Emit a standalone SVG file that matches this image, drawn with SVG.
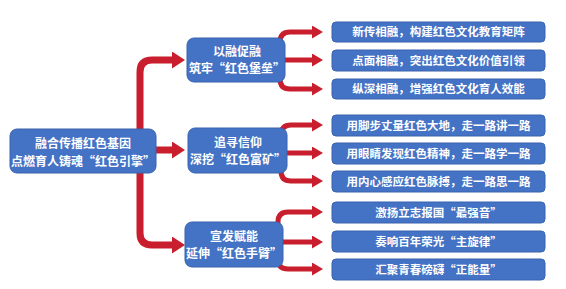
<svg xmlns="http://www.w3.org/2000/svg" width="566" height="289" viewBox="0 0 566 289">
<style>
.box{fill:#4472C4;stroke:#3A63AE;stroke-width:1}
.t{fill:#fff;font-family:"Noto Sans CJK SC","Noto Sans",sans-serif;font-weight:bold;text-anchor:middle}
.m{font-size:12px}
.s{font-size:11.5px}
.big{fill:none;stroke:#C81E2D;stroke-width:7;marker-end:url(#ah)}
.sm{fill:none;stroke:#C81E2D;stroke-width:5;marker-end:url(#as)}
</style>
<defs>
<marker id="ah" markerUnits="userSpaceOnUse" viewBox="0 0 13 17" refX="1" refY="8.5" markerWidth="13" markerHeight="17" orient="auto"><path d="M0,0 L13,8.5 L0,17 z" fill="#C81E2D"/></marker>
<marker id="as" markerUnits="userSpaceOnUse" viewBox="0 0 11 13" refX="1" refY="6.5" markerWidth="11" markerHeight="13" orient="auto"><path d="M0,0 L11,6.5 L0,13 z" fill="#C81E2D"/></marker>
</defs>
<rect width="566" height="289" fill="#fff"/>
<g id="connectors">
<path class="big" d="M140,150 L140,72 Q140,60 152,60 L173,60"/>
<path class="big" d="M150,150 L173,150"/>
<path class="big" d="M140,150 L140,233 Q140,245 152,245 L173,245"/>
<path class="sm" d="M280,60 L280,42 Q280,32 290,32 L313,32"/>
<path class="sm" d="M280,60 L313,60"/>
<path class="sm" d="M280,60 L280,79 Q280,89 290,89 L313,89"/>
<path class="sm" d="M281,150 L281,135 Q281,125 291,125 L313,125"/>
<path class="sm" d="M281,153 L313,153"/>
<path class="sm" d="M281,150 L281,171 Q281,181 291,181 L313,181"/>
<path class="sm" d="M278,244 L278,222 Q278,212 288,212 L313,212"/>
<path class="sm" d="M278,242 L313,242"/>
<path class="sm" d="M278,244 L278,259 Q278,269 288,269 L313,269"/>
</g>
<g id="root"><rect class="box" x="10" y="129" width="146" height="44" rx="7"/><text class="t m" x="83" y="147.5">融合传播红色基因</text><text class="t m" x="83" y="166">点燃育人铸魂“红色引擎”</text></g>
<g id="mid1"><rect class="box" x="187" y="38" width="98" height="44" rx="7"/><text class="t m" x="237" y="56">以融促融</text><text class="t m" x="237" y="73">筑牢“红色堡垒”</text></g>
<g id="mid2"><rect class="box" x="188" y="128" width="99" height="45" rx="7"/><text class="t m" x="238" y="147">追寻信仰</text><text class="t m" x="238" y="164">深挖“红色富矿”</text></g>
<g id="mid3"><rect class="box" x="185" y="222" width="98" height="45" rx="7"/><text class="t m" x="234" y="241">宣发赋能</text><text class="t m" x="234" y="258">延伸“红色手臂”</text></g>
<g id="r1"><rect class="box" x="332" y="22" width="213" height="20" rx="4"/><text class="t s" x="438.5" y="36">新传相融，构建红色文化教育矩阵</text></g>
<g id="r2"><rect class="box" x="332" y="50" width="213" height="21" rx="4"/><text class="t s" x="438.5" y="64.5">点面相融，突出红色文化价值引领</text></g>
<g id="r3"><rect class="box" x="332" y="79" width="213" height="20" rx="4"/><text class="t s" x="438.5" y="93">纵深相融，增强红色文化育人效能</text></g>
<g id="r4"><rect class="box" x="332" y="115" width="213" height="21" rx="4"/><text class="t s" x="438.5" y="129.5">用脚步丈量红色大地，走一路讲一路</text></g>
<g id="r5"><rect class="box" x="332" y="143" width="213" height="21" rx="4"/><text class="t s" x="438.5" y="157.5">用眼睛发现红色精神，走一路学一路</text></g>
<g id="r6"><rect class="box" x="332" y="171" width="213" height="21" rx="4"/><text class="t s" x="438.5" y="185.5">用内心感应红色脉搏，走一路思一路</text></g>
<g id="r7"><rect class="box" x="332" y="202" width="213" height="21" rx="4"/><text class="t s" x="438.5" y="216.5">激扬立志报国“最强音”</text></g>
<g id="r8"><rect class="box" x="332" y="231" width="213" height="21" rx="4"/><text class="t s" x="438.5" y="245.5">奏响百年荣光“主旋律”</text></g>
<g id="r9"><rect class="box" x="332" y="259" width="213" height="21" rx="4"/><text class="t s" x="438.5" y="273.5">汇聚青春磅礴“正能量”</text></g>
</svg>
